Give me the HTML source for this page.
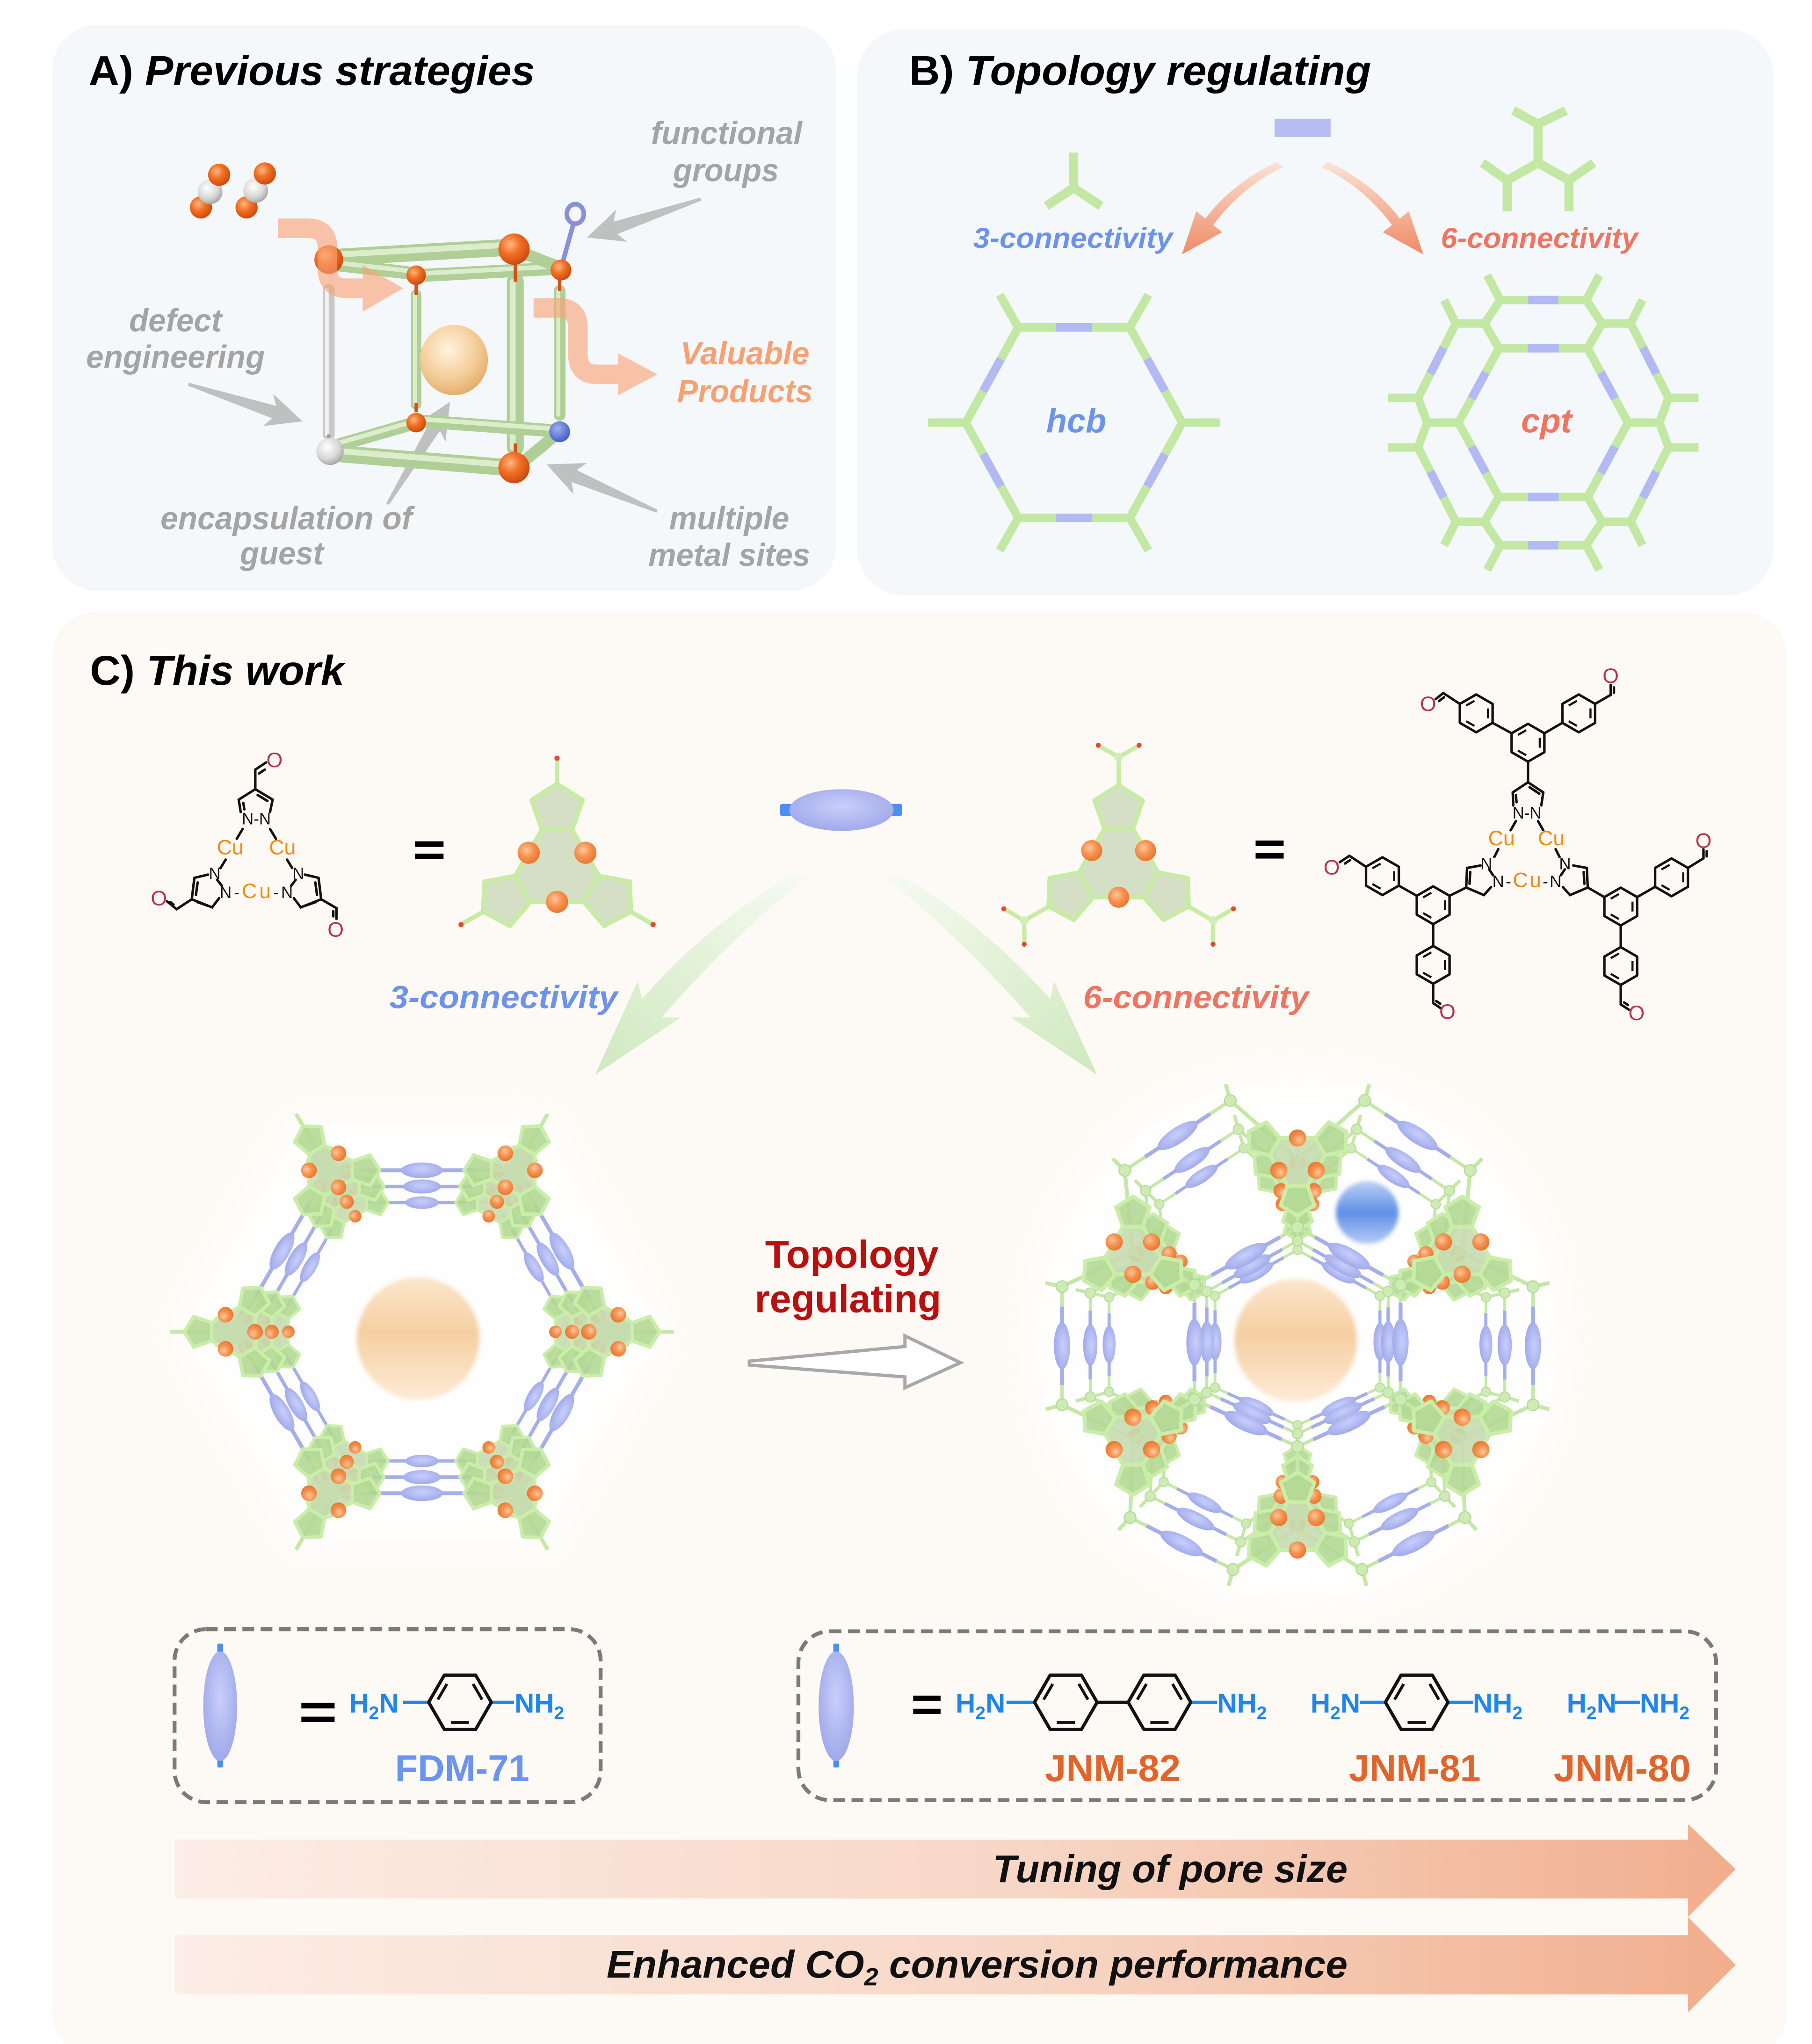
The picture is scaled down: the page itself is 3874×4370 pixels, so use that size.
<!DOCTYPE html>
<html><head><meta charset="utf-8"><title>Topology regulating</title>
<style>
html,body{margin:0;padding:0;background:#ffffff;width:3874px;height:4370px;overflow:hidden}
svg{display:block}
text{font-family:"Liberation Sans",Arial,sans-serif}
.bi{font-weight:bold;font-style:italic}
.ch{stroke:#111;stroke-width:1.9;fill:none;stroke-linecap:round}
.o{font-size:16px;fill:#b5334b;text-anchor:middle}
.n{font-size:12.5px;fill:#111;text-anchor:middle}
.cu{font-size:16px;fill:#f08a10;text-anchor:middle}
</style></head><body>
<svg xmlns="http://www.w3.org/2000/svg" width="3874" height="4370" viewBox="0 0 1389 1567" preserveAspectRatio="none">
<defs>
<radialGradient id="gOr" cx="0.38" cy="0.35" r="0.7"><stop offset="0" stop-color="#ffb884"/><stop offset="0.45" stop-color="#f36f24"/><stop offset="1" stop-color="#c8480c"/></radialGradient>
<radialGradient id="gOr2" cx="0.4" cy="0.38" r="0.65"><stop offset="0" stop-color="#ffc79e"/><stop offset="0.5" stop-color="#f79350"/><stop offset="1" stop-color="#e8752f"/></radialGradient>
<radialGradient id="gGray" cx="0.4" cy="0.35" r="0.7"><stop offset="0" stop-color="#ffffff"/><stop offset="0.6" stop-color="#d8d8d8"/><stop offset="1" stop-color="#a0a0a0"/></radialGradient>
<radialGradient id="gBlueBall" cx="0.4" cy="0.35" r="0.7"><stop offset="0" stop-color="#9fb0f2"/><stop offset="1" stop-color="#3f58c4"/></radialGradient>
<radialGradient id="gPeach" cx="0.42" cy="0.35" r="0.7"><stop offset="0" stop-color="#fff3df"/><stop offset="0.55" stop-color="#f6d09e"/><stop offset="1" stop-color="#e2aa66"/></radialGradient>
<linearGradient id="gGuest" x1="0" y1="0" x2="0" y2="1"><stop offset="0" stop-color="#fbe6cc"/><stop offset="0.45" stop-color="#f6cfa2"/><stop offset="1" stop-color="#fcebd6"/></linearGradient>
<linearGradient id="gBlueSph" x1="0" y1="0" x2="0" y2="1"><stop offset="0" stop-color="#bcd0f4"/><stop offset="0.5" stop-color="#5f8fe6"/><stop offset="1" stop-color="#b6cbf3"/></linearGradient>
<linearGradient id="gArrB" x1="0" y1="0" x2="0" y2="1"><stop offset="0" stop-color="#fce3d6"/><stop offset="1" stop-color="#ee8b64"/></linearGradient>
<linearGradient id="gGL" gradientUnits="userSpaceOnUse" x1="615" y1="672" x2="470" y2="815"><stop offset="0" stop-color="#f5faf1"/><stop offset="1" stop-color="#d2eac2"/></linearGradient>
<linearGradient id="gGR" gradientUnits="userSpaceOnUse" x1="682" y1="672" x2="827" y2="815"><stop offset="0" stop-color="#f5faf1"/><stop offset="1" stop-color="#d2eac2"/></linearGradient>
<linearGradient id="gBot" gradientUnits="userSpaceOnUse" x1="134" y1="0" x2="1331" y2="0"><stop offset="0" stop-color="#fcede6"/><stop offset="0.55" stop-color="#f7d6c5"/><stop offset="1" stop-color="#f1ae8d"/></linearGradient>
<radialGradient id="gLink" cx="0.5" cy="0.42" r="0.6"><stop offset="0" stop-color="#c9cffb"/><stop offset="1" stop-color="#9fa8ea"/></radialGradient>
<filter id="fGlow" x="-50%" y="-50%" width="200%" height="200%"><feGaussianBlur stdDeviation="12"/></filter>
<filter id="fSoft" x="-20%" y="-20%" width="140%" height="140%"><feGaussianBlur stdDeviation="1.6"/></filter>

<g id="bpent"><polygon points="0,-65.3 19.5,-53 11.5,-30.3 -11.5,-30.3 -19.5,-53" fill="#d4dfc6" stroke="#c8eba5" stroke-width="3.5" stroke-linejoin="round"/></g>
<g id="arm3"><use href="#bpent"/><line x1="0" y1="-65.3" x2="0" y2="-84" stroke="#c8eba5" stroke-width="3.5"/><circle cx="0" cy="-85" r="2" fill="#e64a2e"/></g>
<g id="arm6"><use href="#bpent"/><path d="M0,-65.3 L0,-88 M0,-88 L-16,-97 M0,-88 L16,-97" stroke="#c8eba5" stroke-width="3.5" fill="none"/><circle cx="0" cy="-88" r="3.5" fill="#d2edbb"/><circle cx="-16.5" cy="-97.5" r="2" fill="#e64a2e"/><circle cx="16.5" cy="-97.5" r="2" fill="#e64a2e"/></g>
<g id="sbu3">
<polygon points="11.5,-30.3 32,5.2 20.5,25.1 -20.5,25.1 -32,5.2 -11.5,-30.3" fill="#d4dfc6"/>
<use href="#arm3"/><use href="#arm3" transform="rotate(120)"/><use href="#arm3" transform="rotate(240)"/>
<path d="M11.5,-30.3 L32,5.2 M20.5,25.1 L-20.5,25.1 M-32,5.2 L-11.5,-30.3" stroke="#c8eba5" stroke-width="3.5"/>
<circle cx="21.75" cy="-12.55" r="8.5" fill="url(#gOr2)"/><circle cx="-21.75" cy="-12.55" r="8.5" fill="url(#gOr2)"/><circle cx="0" cy="25.1" r="8.5" fill="url(#gOr2)"/>
</g>
<g id="sbu6">
<polygon points="11.5,-30.3 32,5.2 20.5,25.1 -20.5,25.1 -32,5.2 -11.5,-30.3" fill="#d4dfc6"/>
<use href="#arm6"/><use href="#arm6" transform="rotate(120)"/><use href="#arm6" transform="rotate(240)"/>
<path d="M11.5,-30.3 L32,5.2 M20.5,25.1 L-20.5,25.1 M-32,5.2 L-11.5,-30.3" stroke="#c8eba5" stroke-width="3.5"/>
<circle cx="21.75" cy="-12.55" r="8.5" fill="url(#gOr2)"/><circle cx="-21.75" cy="-12.55" r="8.5" fill="url(#gOr2)"/><circle cx="0" cy="25.1" r="8.5" fill="url(#gOr2)"/>
</g>

<g id="fpent"><polygon points="0,-65.3 19.5,-53 11.5,-30.3 -11.5,-30.3 -19.5,-53" fill="#b3d894" fill-opacity="0.9" stroke="#caeeaa" stroke-width="4.5" stroke-linejoin="round"/></g>
<g id="fsbu">
<polygon points="11.5,-30.3 32,5.2 20.5,25.1 -20.5,25.1 -32,5.2 -11.5,-30.3" fill="#c6dcb0" fill-opacity="0.9" stroke="#caeeaa" stroke-width="4.5" stroke-linejoin="round"/>
<use href="#fpent"/><use href="#fpent" transform="rotate(120)"/><use href="#fpent" transform="rotate(240)"/>
<circle cx="21.75" cy="-12.55" r="10" fill="url(#gOr2)"/><circle cx="-21.75" cy="-12.55" r="10" fill="url(#gOr2)"/><circle cx="0" cy="25.1" r="10" fill="url(#gOr2)"/>
</g>

<g id="lk143"><line x1="-71.5" y1="0" x2="71.5" y2="0" stroke="#c6e8a6" stroke-width="2.6"/><line x1="-42" y1="0" x2="42" y2="0" stroke="#a6aeea" stroke-width="3"/><ellipse cx="0" cy="0" rx="16" ry="6" fill="url(#gLink)"/></g>
<g id="lk90"><line x1="-46" y1="0" x2="46" y2="0" stroke="#c6e8a6" stroke-width="2.6"/><line x1="-30" y1="0" x2="30" y2="0" stroke="#a6aeea" stroke-width="3"/><ellipse cx="0" cy="0" rx="18" ry="6.2" fill="url(#gLink)"/></g>

<g id="hcbL">
<path d="M-71.5,-123.8 L-96.5,-167.1 M71.5,-123.8 L96.5,-167.1 M143,0 L193,0 M71.5,123.8 L96.5,167.1 M-71.5,123.8 L-96.5,167.1 M-143,0 L-193,0" stroke="#c6e8a6" stroke-width="3"/>
<g transform="translate(0,-123.8)"><use href="#lk143"/></g>
<g transform="translate(107.25,-61.9) rotate(60)"><use href="#lk143"/></g>
<g transform="translate(107.25,61.9) rotate(120)"><use href="#lk143"/></g>
<g transform="translate(0,123.8)"><use href="#lk143"/></g>
<g transform="translate(-107.25,61.9) rotate(60)"><use href="#lk143"/></g>
<g transform="translate(-107.25,-61.9) rotate(120)"><use href="#lk143"/></g>
<use href="#fsbu" transform="translate(-71.5,-123.8) rotate(-30) scale(0.6)"/>
<use href="#fsbu" transform="translate(71.5,-123.8) rotate(30) scale(0.6)"/>
<use href="#fsbu" transform="translate(143,0) rotate(90) scale(0.6)"/>
<use href="#fsbu" transform="translate(71.5,123.8) rotate(150) scale(0.6)"/>
<use href="#fsbu" transform="translate(-71.5,123.8) rotate(210) scale(0.6)"/>
<use href="#fsbu" transform="translate(-143,0) rotate(270) scale(0.6)"/>
</g>

<g id="cptL">
<path d="M0,-138 L-51.5,-183.3 M0,-138 L51.5,-183.3 M0,-138 L0,-86 M-126.2,-66.6 L-132.4,-129.7 M-126.2,-66.6 L-180.5,-40.6 M-126.2,-66.6 L-79,-42 M126.2,-66.6 L132.4,-129.7 M126.2,-66.6 L180.5,-40.6 M126.2,-66.6 L79,-42 M-126.2,76 L-180.5,50 M-126.2,76 L-128.3,136.4 M-126.2,76 L-79,46 M126.2,76 L180.5,50 M126.2,76 L128.3,136.4 M126.2,76 L79,46 M0,144.7 L0,82 M0,144.7 L-49.4,176.2 M0,144.7 L49.4,176.2" stroke="#c6e8a6" stroke-width="3" fill="none"/>
<path d="M-51.5,-183.3 L-55,-195.8 M51.5,-183.3 L55,-195.8 M-132.4,-129.7 L-141.7,-138.8 M132.4,-129.7 L141.7,-138.8 M-180.5,-40.6 L-193.2,-43.5 M180.5,-40.6 L193.2,-43.5 M-180.5,50 L-193,53.5 M180.5,50 L193,53.5 M-128.3,136.4 L-137.2,145.9 M128.3,136.4 L137.2,145.9 M-49.4,176.2 L-52.9,188.7 M49.4,176.2 L52.9,188.7" stroke="#c6e8a6" stroke-width="3"/>
<g transform="translate(-91.95,-156.5) rotate(-33.5)"><use href="#lk90"/></g>
<g transform="translate(91.95,-156.5) rotate(33.5)"><use href="#lk90"/></g>
<g transform="translate(-180.5,4.7) rotate(90)"><use href="#lk90"/></g>
<g transform="translate(180.5,4.7) rotate(90)"><use href="#lk90"/></g>
<g transform="translate(-88.85,156.3) rotate(26.8)"><use href="#lk90"/></g>
<g transform="translate(88.85,156.3) rotate(-26.8)"><use href="#lk90"/></g>
<g transform="translate(39.5,-64) rotate(29.1)"><use href="#lk90"/></g>
<g transform="translate(79,2) rotate(90)"><use href="#lk90"/></g>
<g transform="translate(39.5,64) rotate(-24.5)"><use href="#lk90"/></g>
<g transform="translate(-39.5,64) rotate(24.5)"><use href="#lk90"/></g>
<g transform="translate(-79,2) rotate(90)"><use href="#lk90"/></g>
<g transform="translate(-39.5,-64) rotate(-29.1)"><use href="#lk90"/></g>
<g fill="#cdebb3" stroke="#b3d898" stroke-width="0.8">
<circle cx="-51.5" cy="-183.3" r="4.5"/><circle cx="51.5" cy="-183.3" r="4.5"/><circle cx="-132.4" cy="-129.7" r="4.5"/><circle cx="132.4" cy="-129.7" r="4.5"/>
<circle cx="-180.5" cy="-40.6" r="4.5"/><circle cx="180.5" cy="-40.6" r="4.5"/><circle cx="-180.5" cy="50" r="4.5"/><circle cx="180.5" cy="50" r="4.5"/>
<circle cx="-128.3" cy="136.4" r="4.5"/><circle cx="128.3" cy="136.4" r="4.5"/><circle cx="-49.4" cy="176.2" r="4.5"/><circle cx="49.4" cy="176.2" r="4.5"/>
<circle cx="0" cy="-86" r="4.5"/><circle cx="79" cy="-42" r="4.5"/><circle cx="79" cy="46" r="4.5"/><circle cx="0" cy="82" r="4.5"/><circle cx="-79" cy="46" r="4.5"/><circle cx="-79" cy="-42" r="4.5"/>
</g>
<use href="#fsbu" transform="translate(0,-138) rotate(180) scale(0.66)"/>
<use href="#fsbu" transform="translate(-126.2,-66.6) scale(0.66)"/>
<use href="#fsbu" transform="translate(126.2,-66.6) scale(0.66)"/>
<use href="#fsbu" transform="translate(-126.2,76) rotate(180) scale(0.66)"/>
<use href="#fsbu" transform="translate(126.2,76) rotate(180) scale(0.66)"/>
<use href="#fsbu" transform="translate(0,144.7) scale(0.66)"/>
</g>

<g id="bz"><polygon points="0,-14.5 12.56,-7.25 12.56,7.25 0,14.5 -12.56,7.25 -12.56,-7.25" fill="none" stroke="#111" stroke-width="1.9" stroke-linejoin="round"/><path d="M9,-3.8 L9,3.8 M-1.4,9.6 L-7.7,6 M-7.7,-6 L-1.4,-9.6" stroke="#111" stroke-width="1.6"/></g>
<g id="fbz"><polygon points="-24,0 -12,-20.8 12,-20.8 24,0 12,20.8 -12,20.8" fill="none" stroke="#111" stroke-width="2.5" stroke-linejoin="round"/><path d="M-17,-2 L-10,-14 M17,-2 L10,-14 M-7,15.6 L7,15.6" stroke="#111" stroke-width="2.2"/></g>
<g id="garrow"><polygon points="0,0 -28,-13 -23,-5 -92,-1.2 -92,1.2 -23,5 -28,13" fill="#b2b2b2" fill-opacity="0.8"/></g>
</defs>

<!-- ===== PANEL A ===== -->
<rect x="40" y="19" width="601" height="434" rx="35" fill="#f5f8fb"/>
<text x="68" y="65" font-size="32" font-weight="bold" textLength="342" lengthAdjust="spacingAndGlyphs">A) <tspan font-style="italic">Previous strategies</tspan></text>

<g fill="#a4a4a4" font-size="24.5">
<text x="499" y="110.5" class="bi" textLength="116" lengthAdjust="spacingAndGlyphs">functional</text>
<text x="516" y="139" class="bi" textLength="81" lengthAdjust="spacingAndGlyphs">groups</text>
<text x="99" y="254" class="bi" textLength="71" lengthAdjust="spacingAndGlyphs">defect</text>
<text x="66" y="282" class="bi" textLength="137" lengthAdjust="spacingAndGlyphs">engineering</text>
<text x="123" y="405.7" class="bi" textLength="193" lengthAdjust="spacingAndGlyphs">encapsulation of</text>
<text x="184" y="432.6" class="bi" textLength="64" lengthAdjust="spacingAndGlyphs">guest</text>
<text x="513" y="405.7" class="bi" textLength="92" lengthAdjust="spacingAndGlyphs">multiple</text>
<text x="497" y="433.8" class="bi" textLength="124" lengthAdjust="spacingAndGlyphs">metal sites</text>
</g>
<g fill="#f7a072" font-size="24.5">
<text x="521.5" y="279.4" class="bi" textLength="99" lengthAdjust="spacingAndGlyphs">Valuable</text>
<text x="519" y="308.3" class="bi" textLength="104" lengthAdjust="spacingAndGlyphs">Products</text>
</g>

<use href="#garrow" transform="translate(450,182) rotate(161.4)"/>
<use href="#garrow" transform="translate(232,323) rotate(18)"/>
<use href="#garrow" transform="translate(345,308) rotate(-58.6)"/>
<use href="#garrow" transform="translate(419,356) rotate(-157)"/>

<!-- CO2 -->
<circle cx="154" cy="159" r="8.5" fill="url(#gOr)"/><circle cx="161" cy="147" r="9.5" fill="url(#gGray)"/><circle cx="168" cy="134" r="8.5" fill="url(#gOr)"/>
<circle cx="189" cy="159" r="8.5" fill="url(#gOr)"/><circle cx="196" cy="146" r="9.5" fill="url(#gGray)"/><circle cx="203" cy="133" r="8.5" fill="url(#gOr)"/>

<!-- cube rods -->
<g stroke-linecap="round">
<line x1="262" y1="197" x2="384" y2="190" stroke="#b0cf96" stroke-width="13"/><line x1="262" y1="195" x2="384" y2="188" stroke="#dcedcc" stroke-width="4.5"/>
<line x1="259" y1="203" x2="312" y2="209" stroke="#b0cf96" stroke-width="10"/><line x1="259" y1="201.5" x2="312" y2="207.5" stroke="#dcedcc" stroke-width="3.5"/>
<line x1="326" y1="211" x2="422" y2="206" stroke="#b0cf96" stroke-width="10"/><line x1="326" y1="209.5" x2="422" y2="204.5" stroke="#dcedcc" stroke-width="3.5"/>
<line x1="401" y1="194" x2="424" y2="203" stroke="#b0cf96" stroke-width="9"/>
<line x1="252" y1="222" x2="252" y2="333" stroke="#c8c8c8" stroke-width="9"/><line x1="250.5" y1="222" x2="250.5" y2="333" stroke="#f2f2f2" stroke-width="3"/>
<line x1="319" y1="226" x2="319" y2="310" stroke="#b0cf96" stroke-width="8"/><line x1="318" y1="226" x2="318" y2="310" stroke="#dcedcc" stroke-width="3"/>
<line x1="395" y1="216" x2="395" y2="343" stroke="#b0cf96" stroke-width="13"/><line x1="393" y1="216" x2="393" y2="343" stroke="#dcedcc" stroke-width="4.5"/>
<line x1="429" y1="223" x2="429" y2="318" stroke="#b0cf96" stroke-width="9"/><line x1="428" y1="223" x2="428" y2="318" stroke="#dcedcc" stroke-width="3"/>
<line x1="260" y1="341" x2="312" y2="326" stroke="#b0cf96" stroke-width="10"/><line x1="260" y1="339.5" x2="312" y2="324.5" stroke="#dcedcc" stroke-width="3.5"/>
<line x1="262" y1="348" x2="384" y2="358" stroke="#b0cf96" stroke-width="13"/><line x1="262" y1="346" x2="384" y2="356" stroke="#dcedcc" stroke-width="4.5"/>
<line x1="326" y1="323" x2="421" y2="330" stroke="#b0cf96" stroke-width="10"/><line x1="326" y1="321.5" x2="421" y2="328.5" stroke="#dcedcc" stroke-width="3.5"/>
<line x1="401" y1="354" x2="423" y2="336" stroke="#b0cf96" stroke-width="9"/>
</g>
<g stroke="#d6501a" stroke-width="2.5">
<line x1="319" y1="218" x2="319" y2="226"/><line x1="395" y1="202" x2="395" y2="216"/><line x1="429" y1="214" x2="429" y2="223"/>
<line x1="319" y1="309" x2="319" y2="316"/><line x1="395" y1="340" x2="395" y2="347"/>
</g>
<line x1="252" y1="333" x2="252" y2="337" stroke="#999" stroke-width="2.5"/>
<ellipse cx="348" cy="276" rx="26" ry="27" fill="url(#gPeach)"/>
<line x1="430" y1="206" x2="440" y2="170" stroke="#8a90d8" stroke-width="3.5"/>
<ellipse cx="441" cy="164" rx="6.5" ry="7.5" fill="none" stroke="#8a90d8" stroke-width="3.5"/>
<circle cx="252" cy="199" r="11" fill="url(#gOr)"/>
<circle cx="319" cy="211" r="7.5" fill="url(#gOr)"/>
<circle cx="394" cy="191" r="12" fill="url(#gOr)"/>
<circle cx="430" cy="207" r="8" fill="url(#gOr)"/>
<circle cx="253" cy="346" r="10.5" fill="url(#gGray)"/>
<circle cx="319" cy="324" r="7.5" fill="url(#gOr)"/>
<circle cx="394" cy="358.5" r="12" fill="url(#gOr)"/>
<circle cx="429" cy="331" r="8" fill="url(#gBlueBall)"/>

<g opacity="0.62">
<path d="M213,175 L236,175 Q251,175 251,190 L251,206 Q251,221 266,221 L279,221" fill="none" stroke="#f9a274" stroke-width="15"/>
<polygon points="278,203 309,221 278,239" fill="#f9a274"/>
<path d="M409,236 L428,236 Q443,236 443,251 L443,272 Q443,287 458,287 L475,287" fill="none" stroke="#f9a274" stroke-width="15"/>
<polygon points="474,271 504,287 474,303" fill="#f9a274"/>
</g>

<!-- ===== PANEL B ===== -->
<rect x="657" y="22.5" width="703" height="434" rx="36" fill="#f5f8fb"/>
<text x="697" y="65" font-size="32" font-weight="bold" textLength="354" lengthAdjust="spacingAndGlyphs">B) <tspan font-style="italic">Topology regulating</tspan></text>
<rect x="977" y="91" width="43" height="14" fill="#b5bdf2"/>
<path d="M823,117 L823,144 M802,158 L823,144 L844,158" stroke="#c2e8a4" stroke-width="7" fill="none"/>
<path d="M1160,84.7 L1179,95.1 L1200.3,84.7 M1179,95.1 L1179,124.9 M1155.3,138.2 L1179,124.9 L1202.7,138.2 M1136.3,124.9 L1155.3,138.2 L1155.3,162 M1221.6,124.9 L1202.7,138.2 L1202.7,162" stroke="#c2e8a4" stroke-width="7" fill="none"/>
<path d="M979,124 Q945,140 924,167.5 L917,162 L906,195 L937,178 L930,172.5 Q952,143 984,128 Z" fill="url(#gArrB)"/>
<path d="M1018,124 Q1052,140 1073,167.5 L1080,162 L1091,195 L1060,178 L1067,172.5 Q1045,143 1013,128 Z" fill="url(#gArrB)"/>
<text x="746" y="190" font-size="22" class="bi" fill="#6d92ec" textLength="153" lengthAdjust="spacingAndGlyphs">3-connectivity</text>
<text x="1104.5" y="190" font-size="22" class="bi" fill="#f07462" textLength="151" lengthAdjust="spacingAndGlyphs">6-connectivity</text>

<g transform="translate(823.3,324)">
<path d="M-42.7,-73 L42.7,-73 L83,0 L42.7,73 L-42.7,73 L-83,0 Z M-42.7,-73 L-57,-98 M42.7,-73 L57,-98 M83,0 L112,0 M-83,0 L-112,0 M-42.7,73 L-57,98 M42.7,73 L57,98" stroke="#c2e8a4" stroke-width="6.5" fill="none"/>
<path d="M-14,-73 L14,-73 M-14,73 L14,73 M56,-48.9 L69.7,-24.1 M69.7,24.1 L56,48.9 M-56,-48.9 L-69.7,-24.1 M-69.7,24.1 L-56,48.9" stroke="#b3b9f2" stroke-width="6.5"/>
</g>
<text x="802" y="331.5" font-size="26" class="bi" fill="#6d92ec" textLength="46" lengthAdjust="spacingAndGlyphs">hcb</text>

<g transform="translate(1183,324)">
<path d="M-34,-57 L34,-57 L65,0 L34,57 L-34,57 L-65,0 Z M-34,-57 L-45,-76 L-33,-94 L33,-94 L45,-76 L34,-57 M-33,-94 L-43,-113 M33,-94 L43,-113 M-45,-76 L-67,-76 L-76,-94 M-67,-76 L-96,-19 L-119,-19 M-96,-19 L-89,0 L-65,0 M-89,0 L-96,19 L-119,19 M-96,19 L-67,76 L-76,94 M-67,76 L-45,76 L-34,57 M-45,76 L-33,94 L33,94 L45,76 L34,57 M-33,94 L-43,113 M33,94 L43,113 M45,-76 L67,-76 L76,-94 M67,-76 L96,-19 L119,-19 M96,-19 L89,0 L65,0 M89,0 L96,19 L119,19 M96,19 L67,76 L76,94 M67,76 L45,76" stroke="#c2e8a4" stroke-width="6.5" fill="none"/>
<path d="M-11.9,-57 L11.9,-57 M44.1,-38.5 L54.9,-18.5 M54.9,18.5 L44.1,38.5 M-11.9,57 L11.9,57 M-44.1,38.5 L-54.9,18.5 M-54.9,-18.5 L-44.1,-38.5 M-11.5,-94 L11.5,-94 M-11.5,94 L11.5,94 M-76.4,-57.5 L-86.6,-37.5 M76.4,-57.5 L86.6,-37.5 M-86.6,37.5 L-76.4,57.5 M86.6,37.5 L76.4,57.5" stroke="#b3b9f2" stroke-width="6.5"/>
</g>
<text x="1166" y="331.5" font-size="26" class="bi" fill="#f07462" textLength="39" lengthAdjust="spacingAndGlyphs">cpt</text>

<!-- ===== PANEL C ===== -->
<rect x="40" y="469" width="1330" height="1108" rx="34" fill="#fdfaf5"/>
<text x="69" y="525" font-size="32" font-weight="bold" textLength="195" lengthAdjust="spacingAndGlyphs">C) <tspan font-style="italic">This work</tspan></text>

<g class="ch">
<path d="M195.7,605 L195.7,590 L204,584.5 M198.5,593 L203,590"/>
<path d="M195.7,605 L209,613 L207,622.5 M184.5,622.5 L183,613 L195.7,605 M197.5,609.5 L205,614 M186.5,615.5 L187.3,620.5"/>
<path d="M186,635.5 L181.5,643 M207,635.5 L211.5,643 M173,659 L169,665.5 M220,659 L224,665.5"/>
<path d="M149,673 L159.5,670.5 M149,673 L147,689.4 L162.6,695.6 L168,688.5 M166.5,674.5 L170,679 M151.5,676.5 L150.2,686 M151,691.5 L159.5,694.5"/>
<path d="M147,689.4 L135.4,697 L128,691 M133,693.5 L130.5,691.5"/>
<path d="M244.2,673 L233.7,670.5 M244.2,673 L246.2,689.4 L230.6,695.6 L225.2,688.5 M226.7,674.5 L223.2,679 M241.7,676.5 L243,686 M242.2,691.5 L233.7,694.5"/>
<path d="M246.2,689.4 L257.9,696.2 L257.9,704.5 M255.5,698.5 L255.5,702.5"/>
</g>
<text x="196.5" y="632" class="n">N-N</text>
<text x="176.5" y="655" class="cu">Cu</text><text x="216.5" y="655" class="cu">Cu</text>
<text x="164.6" y="674" class="n">N</text><text x="228.7" y="674" class="n">N</text>
<text x="196.5" y="688.5" class="n" textLength="56" lengthAdjust="spacing">N-<tspan fill="#f08a10" font-size="16">Cu</tspan>-N</text>
<text x="210.4" y="588" class="o">O</text><text x="121.8" y="694" class="o">O</text><text x="257.3" y="718" class="o">O</text>

<rect x="318" y="645" width="22" height="4.3" fill="#000"/><rect x="318" y="654.4" width="22" height="4.3" fill="#000"/>
<use href="#sbu3" transform="translate(427,666.3)"/>

<rect x="598" y="616.3" width="9" height="9.3" rx="1.5" fill="#4d8ef0"/><rect x="682" y="616.3" width="9.5" height="9.3" rx="1.5" fill="#4d8ef0"/>
<ellipse cx="645" cy="621" rx="40" ry="16" fill="url(#gLink)"/>

<use href="#sbu6" transform="translate(857.5,664) scale(0.95)"/>
<rect x="962.5" y="644.4" width="21.5" height="4.2" fill="#000"/><rect x="962.5" y="654" width="21.5" height="4.2" fill="#000"/>

<use href="#bz" transform="translate(1171.3,569.4)"/>
<use href="#bz" transform="translate(1131.6,546.9)"/>
<use href="#bz" transform="translate(1210.2,546.9)"/>
<use href="#bz" transform="translate(1098.6,694)"/>
<use href="#bz" transform="translate(1059.7,671.7)"/>
<use href="#bz" transform="translate(1098.6,739.7)"/>
<use href="#bz" transform="translate(1242.4,695)"/>
<use href="#bz" transform="translate(1281.3,672.6)"/>
<use href="#bz" transform="translate(1242.4,740.6)"/>
<g class="ch">
<path d="M1158.74,562.15 L1144.16,554.15 M1183.86,562.15 L1197.64,554.15 M1086.04,686.75 L1072.26,678.95 M1098.6,708.5 L1098.6,725.2 M1254.96,687.75 L1268.74,679.85 M1242.4,709.5 L1242.4,726.1"/>
<path d="M1119,539.6 L1106.3,531.3 L1100.5,536 M1107,534.5 L1103,537.5"/>
<path d="M1222.8,539.6 L1234.7,532.7 L1234.7,525 M1237.2,531 L1237.2,527"/>
<path d="M1047.1,664.5 L1034.4,656.1 L1027,661 M1035,659.3 L1031,662"/>
<path d="M1293.9,665.4 L1305.8,658 L1305.8,651 M1308.3,656.5 L1308.3,652.5"/>
<path d="M1098.6,754.2 L1098.6,769 L1104.5,773 M1101,767.5 L1104,769.5"/>
<path d="M1242.4,755.1 L1242.4,770 L1248.5,774 M1245,768.5 L1248,770.5"/>
<path d="M1171.3,583.9 L1171.3,599.7 L1183,607.5 L1181.5,617.5 M1160,617.5 L1159.6,607.5 L1171.3,599.7 M1172.5,603.5 L1180,608.5 M1162,609.5 L1162.5,615"/>
<path d="M1162,629.5 L1158,636.5 M1179,629.5 L1183,636.5 M1148.5,651 L1145.5,657 M1192.5,651 L1195.5,657"/>
<path d="M1124.6,665.4 L1135,663.5 M1124.6,665.4 L1123.9,680.4 L1137.5,686.2 L1143,680 M1141.5,666.5 L1144.5,671 M1127,668.5 L1126.5,677.5 M1123.9,680.4 L1111.2,686.75"/>
<path d="M1216.4,665.4 L1206,663.5 M1216.4,665.4 L1217.1,680.4 L1203.5,686.2 L1198,680 M1199.5,666.5 L1196.5,671 M1214,668.5 L1214.5,677.5 M1217.1,680.4 L1229.8,687.75"/>
</g>
<text x="1170.5" y="627.5" class="n">N-N</text>
<text x="1151" y="648" class="cu">Cu</text><text x="1189.2" y="648" class="cu">Cu</text>
<text x="1139.4" y="666.5" class="n">N</text><text x="1199.7" y="666.5" class="n">N</text>
<text x="1170.5" y="680" class="n" textLength="53" lengthAdjust="spacing">N-<tspan fill="#f08a10" font-size="16">Cu</tspan>-N</text>
<text x="1094.7" y="545" class="o">O</text><text x="1234.7" y="523.5" class="o">O</text>
<text x="1020.8" y="670.4" class="o">O</text><text x="1305.8" y="650" class="o">O</text>
<text x="1109.5" y="781" class="o">O</text><text x="1254.5" y="782" class="o">O</text>

<path d="M621,671.5 Q571,708 507,780 L522,780 L456,824 L489,752 L492,766 Q542,709 606,671.5 Z" fill="url(#gGL)"/>
<path d="M676,671.5 Q726,708 790,780 L775,780 L841,824 L808,752 L805,766 Q755,709 691,671.5 Z" fill="url(#gGR)"/>
<text x="298.5" y="773" font-size="24.5" class="bi" fill="#6d92ec" textLength="175" lengthAdjust="spacingAndGlyphs">3-connectivity</text>
<text x="830.3" y="773" font-size="24.5" class="bi" fill="#f07462" textLength="173" lengthAdjust="spacingAndGlyphs">6-connectivity</text>

<!-- hcb framework -->
<polygon points="513.4,1021 418.4,1185.5 228.4,1185.5 133.4,1021 228.4,856.5 418.4,856.5" fill="#ffffff" opacity="0.9" filter="url(#fGlow)"/>
<g transform="translate(323.4,1021)">
<use href="#hcbL" transform="scale(0.8)"/>
<use href="#hcbL" transform="scale(0.9)"/>
<use href="#hcbL"/>
</g>
<circle cx="320.5" cy="1026.3" r="47" fill="url(#gGuest)" filter="url(#fSoft)"/>

<text x="653" y="972" font-size="30" font-weight="bold" fill="#b80f0f" text-anchor="middle" textLength="133" lengthAdjust="spacingAndGlyphs">Topology</text>
<text x="650" y="1006" font-size="30" font-weight="bold" fill="#b80f0f" text-anchor="middle" textLength="143" lengthAdjust="spacingAndGlyphs">regulating</text>
<polygon points="574.4,1043.5 693.7,1032.3 693.7,1024.1 736.3,1044.7 693.7,1063.9 693.7,1055.6 574.4,1046.5" fill="#ffffff" stroke="#a8a8a8" stroke-width="2.5"/>

<!-- cpt framework -->
<circle cx="994.6" cy="1027" r="205" fill="#ffffff" opacity="0.9" filter="url(#fGlow)"/>
<g transform="translate(994.6,1027)">
<use href="#cptL" transform="scale(0.8)"/>
<use href="#cptL" transform="scale(0.88)"/>
<use href="#cptL"/>
</g>
<circle cx="993.2" cy="1027.6" r="47" fill="url(#gGuest)" filter="url(#fSoft)"/>
<circle cx="1048" cy="929.6" r="24" fill="url(#gBlueSph)" filter="url(#fSoft)"/>

<!-- bottom boxes -->
<rect x="133.8" y="1249" width="326.6" height="132.6" rx="24" fill="none" stroke="#7a7a7a" stroke-width="3" stroke-dasharray="9 5"/>
<rect x="612" y="1250.6" width="703.5" height="129.4" rx="24" fill="none" stroke="#7a7a7a" stroke-width="3" stroke-dasharray="9 5"/>

<rect x="166.6" y="1260" width="4.4" height="11" rx="1" fill="#4a8ff0"/><rect x="166.6" y="1345" width="4.4" height="10" rx="1" fill="#4a8ff0"/>
<ellipse cx="168.8" cy="1308" rx="13" ry="42" fill="url(#gLink)"/>
<rect x="638.8" y="1260" width="4.4" height="11" rx="1" fill="#4a8ff0"/><rect x="638.8" y="1345" width="4.4" height="10" rx="1" fill="#4a8ff0"/>
<ellipse cx="641" cy="1308" rx="13.5" ry="42" fill="url(#gLink)"/>

<rect x="231" y="1305.5" width="25.5" height="4.2" fill="#000"/><rect x="231" y="1316" width="25.5" height="4.2" fill="#000"/>
<rect x="700" y="1300" width="21" height="4" fill="#000"/><rect x="700" y="1310" width="21" height="4" fill="#000"/>

<g font-size="21" font-weight="bold" fill="#1f86f0">
<text x="267.6" y="1313">H<tspan dy="5" font-size="14">2</tspan><tspan dy="-5">N</tspan></text>
<text x="394.4" y="1313">NH<tspan dy="5" font-size="14">2</tspan></text>
<text x="732.5" y="1313">H<tspan dy="5" font-size="14">2</tspan><tspan dy="-5">N</tspan></text>
<text x="933" y="1313">NH<tspan dy="5" font-size="14">2</tspan></text>
<text x="1004.6" y="1313">H<tspan dy="5" font-size="14">2</tspan><tspan dy="-5">N</tspan></text>
<text x="1129" y="1313">NH<tspan dy="5" font-size="14">2</tspan></text>
<text x="1201" y="1313">H<tspan dy="5" font-size="14">2</tspan><tspan dy="-5">N</tspan></text>
<text x="1257" y="1313">NH<tspan dy="5" font-size="14">2</tspan></text>
</g>
<g stroke="#1f86f0" stroke-width="2.5">
<line x1="309" y1="1305" x2="328.6" y2="1305"/><line x1="376.6" y1="1305" x2="394" y2="1305"/>
<line x1="771.5" y1="1305" x2="793" y2="1305"/><line x1="912.8" y1="1305" x2="933" y2="1305"/>
<line x1="1042.5" y1="1305" x2="1062" y2="1305"/><line x1="1110" y1="1305" x2="1129" y2="1305"/>
<line x1="1238" y1="1305" x2="1257" y2="1305"/>
</g>
<use href="#fbz" transform="translate(352.6,1305)"/>
<use href="#fbz" transform="translate(817,1305)"/>
<use href="#fbz" transform="translate(888.8,1305)"/>
<line x1="841" y1="1305" x2="864.8" y2="1305" stroke="#111" stroke-width="2.5"/>
<use href="#fbz" transform="translate(1086,1305)"/>

<text x="354.3" y="1365.5" font-size="28.5" font-weight="bold" fill="#6a95ef" text-anchor="middle" textLength="103" lengthAdjust="spacingAndGlyphs">FDM-71</text>
<g font-size="29" font-weight="bold" fill="#e0652c" text-anchor="middle">
<text x="853" y="1365.5" textLength="104" lengthAdjust="spacingAndGlyphs">JNM-82</text>
<text x="1084.5" y="1365.5" textLength="101" lengthAdjust="spacingAndGlyphs">JNM-81</text>
<text x="1243.5" y="1365.5" textLength="105" lengthAdjust="spacingAndGlyphs">JNM-80</text>
</g>

<polygon points="134,1410.3 1294,1410.3 1294,1398.4 1330.5,1433 1294,1469.5 1294,1455.4 134,1455.4" fill="url(#gBot)"/>
<polygon points="134,1483.6 1294,1483.6 1294,1469.7 1330.5,1506.3 1294,1542.7 1294,1529 134,1529" fill="url(#gBot)"/>
<text x="761" y="1443" font-size="29.5" class="bi" fill="#111" textLength="272" lengthAdjust="spacingAndGlyphs">Tuning of pore size</text>
<text x="465" y="1516" font-size="29.5" class="bi" fill="#111" textLength="568" lengthAdjust="spacingAndGlyphs">Enhanced CO<tspan dy="6" font-size="19">2</tspan><tspan dy="-6"> conversion performance</tspan></text>
</svg>
</body></html>
